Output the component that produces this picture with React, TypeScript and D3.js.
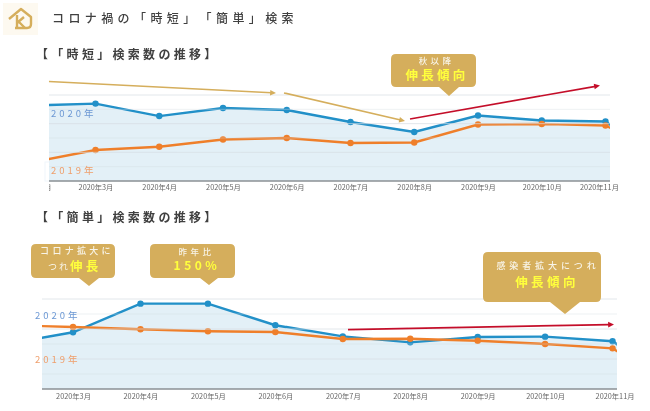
import { useEffect, useRef } from 'react'
import * as d3 from 'd3'

// index values, 2020年2月 and 12月 are only seen as clipped edges
const months = ['2020年2月', '2020年3月', '2020年4月', '2020年5月', '2020年6月', '2020年7月', '2020年8月', '2020年9月', '2020年10月', '2020年11月', '2020年12月']
const shortSeries2020 = [52.7, 54, 45.3, 50.9, 49.5, 41.2, 34.2, 45.7, 42.2, 41.5, 10.5]
const shortSeries2019 = [13, 21.6, 23.9, 29, 30, 26.5, 26.9, 39.4, 39.8, 38.7, 16.7]
const easySeries2020 = [30, 37.8, 56.9, 56.9, 42.5, 35.1, 31.1, 34.7, 34.9, 31.8, 2]
const easySeries2019 = [42.7, 41.3, 39.8, 38.5, 38, 33.3, 33.5, 32.2, 30, 27.1, 0]
const yTicks = [0, 10, 20, 30, 40, 50, 60]

const FONT = '"Noto Sans CJK JP", "Noto Sans", sans-serif'
const GOLD = '#d5ae5c'
const YELLOW = '#ffff3c'
const BLUE = '#2190c8'
const ORANGE = '#ef7f2b'
const RED = '#c4112a'
const PALE = '#f8f4e8'

type Sel = d3.Selection<SVGGElement, unknown, null, undefined>

interface ChartConfig {
  id: string
  values2020: number[]
  values2019: number[]
  xRange: [number, number]
  plot: { left: number; right: number; top: number; bottom: number }
  tickMonths: string[]
  tickPadding: number
  tickClipLeft: number
  firstTickShift: number
  lastTickShift: number
  labelX: number
  label2020Y: number
  label2019Y: number
}

function drawTrend(root: Sel, cfg: ChartConfig) {
  const { plot } = cfg
  const x = d3.scalePoint<string>().domain(months).range(cfg.xRange)
  const y = d3.scaleLinear().domain([0, 60]).range([plot.bottom, plot.top])
  const xOf = (_: number, i: number) => x(months[i]) as number

  const defs = root.append('defs')
  defs
    .append('clipPath')
    .attr('id', `plot-${cfg.id}`)
    .append('rect')
    .attr('x', plot.left)
    .attr('y', plot.top - 10)
    .attr('width', plot.right - plot.left)
    .attr('height', plot.bottom - plot.top + 12)
  // the axis group is translated, so this rect starts at its own 0
  defs
    .append('clipPath')
    .attr('id', `ticks-${cfg.id}`)
    .append('rect')
    .attr('x', cfg.tickClipLeft)
    .attr('y', 0)
    .attr('width', 650 - cfg.tickClipLeft)
    .attr('height', 20)

  const plotG = root.append('g').attr('clip-path', `url(#plot-${cfg.id})`)

  // Area under the 2020 line
  const area = d3.area<number>().x(xOf).y0(y(0)).y1((d) => y(d))
  plotG.append('path').attr('d', area(cfg.values2020)).attr('fill', '#e3f0f7')

  // Grid lines
  root
    .append('g')
    .selectAll('line')
    .data(yTicks.slice(1))
    .enter()
    .append('line')
    .attr('x1', plot.left)
    .attr('x2', plot.right)
    .attr('y1', (d) => y(d))
    .attr('y2', (d) => y(d))
    .attr('stroke', '#d5dde2')
    .attr('stroke-opacity', (d) => (d % 20 === 0 ? 0.7 : 0.4))

  // Baseline and month labels
  const axis = root
    .append('g')
    .attr('transform', `translate(0,${plot.bottom})`)
    .attr('clip-path', `url(#ticks-${cfg.id})`)
    .call(d3.axisBottom(x).tickValues(cfg.tickMonths).tickSize(0).tickPadding(cfg.tickPadding))
  axis.select('.domain').remove()
  axis
    .selectAll('text')
    .attr('font-family', FONT)
    .attr('font-size', 7.3)
    .attr('fill', '#666')
  const tickText = axis.selectAll<SVGTextElement, string>('text')
  tickText.filter((d) => d === '2020年2月').attr('dx', cfg.firstTickShift)
  tickText.filter((d) => d === '2020年11月').attr('dx', cfg.lastTickShift)
  root
    .append('line')
    .attr('x1', plot.left)
    .attr('x2', plot.right)
    .attr('y1', plot.bottom)
    .attr('y2', plot.bottom)
    .attr('stroke', '#8b9094')
    .attr('stroke-width', 1.3)

  // Series lines and markers
  const line = d3.line<number>().x(xOf).y((d) => y(d))
  const series: [number[], string][] = [
    [cfg.values2020, BLUE],
    [cfg.values2019, ORANGE],
  ]
  series.forEach(([values, color]) => {
    plotG
      .append('path')
      .attr('d', line(values))
      .attr('fill', 'none')
      .attr('stroke', color)
      .attr('stroke-width', 2.4)
    plotG
      .append('g')
      .selectAll('circle')
      .data(values)
      .enter()
      .append('circle')
      .attr('cx', xOf)
      .attr('cy', (d) => y(d))
      .attr('r', 3.2)
      .attr('fill', color)
  })

  // Year labels
  const yearLabels: [string, number, string][] = [
    ['2020年', cfg.label2020Y, '#6c98d4'],
    ['2019年', cfg.label2019Y, '#ef9f6c'],
  ]
  yearLabels.forEach(([text, ly, color]) => {
    root
      .append('text')
      .attr('x', cfg.labelX)
      .attr('y', ly)
      .attr('dominant-baseline', 'middle')
      .attr('font-family', FONT)
      .attr('font-size', 9.5)
      .attr('letter-spacing', 3)
      .attr('fill', color)
      .text(text)
  })
}

function heading(root: Sel, text: string, tx: number, ty: number, size: number, spacing: number, weight: number) {
  root
    .append('text')
    .attr('x', tx)
    .attr('y', ty)
    .attr('dominant-baseline', 'middle')
    .attr('font-family', FONT)
    .attr('font-size', size)
    .attr('font-weight', weight)
    .attr('letter-spacing', spacing)
    .attr('fill', '#3f3f3f')
    .text(text)
}

function arrow(root: Sel, x1: number, y1: number, x2: number, y2: number, color: string, w: number) {
  const angle = Math.atan2(y2 - y1, x2 - x1)
  const head = 6.5
  root
    .append('line')
    .attr('x1', x1)
    .attr('y1', y1)
    .attr('x2', x2 - Math.cos(angle) * head * 0.7)
    .attr('y2', y2 - Math.sin(angle) * head * 0.7)
    .attr('stroke', color)
    .attr('stroke-width', w)
  const pts = [
    [x2, y2],
    [x2 - Math.cos(angle - 0.45) * head, y2 - Math.sin(angle - 0.45) * head],
    [x2 - Math.cos(angle + 0.45) * head, y2 - Math.sin(angle + 0.45) * head],
  ]
  root.append('path').attr('d', `M${pts.join('L')}Z`).attr('fill', color)
}

interface CalloutLine {
  text: string
  cx: number
  y: number
  size: number
  spacing: number
  color: string
  weight?: number
}

function callout(
  root: Sel,
  box: { x0: number; x1: number; y0: number; y1: number },
  tip: { x: number; y: number; half: number },
  lines: CalloutLine[]
) {
  const r = 5
  const { x0, x1, y0, y1 } = box
  root
    .append('path')
    .attr(
      'd',
      `M${x0 + r},${y0}H${x1 - r}Q${x1},${y0} ${x1},${y0 + r}V${y1 - r}Q${x1},${y1} ${x1 - r},${y1}` +
        `H${tip.x + tip.half}L${tip.x},${tip.y}L${tip.x - tip.half},${y1}` +
        `H${x0 + r}Q${x0},${y1} ${x0},${y1 - r}V${y0 + r}Q${x0},${y0} ${x0 + r},${y0}Z`
    )
    .attr('fill', GOLD)
  lines.forEach((l) => {
    root
      .append('text')
      .attr('x', l.cx)
      .attr('y', l.y)
      .attr('text-anchor', 'middle')
      .attr('dominant-baseline', 'middle')
      .attr('font-family', FONT)
      .attr('font-size', l.size)
      .attr('font-weight', l.weight ?? 500)
      .attr('letter-spacing', l.spacing)
      .attr('fill', l.color)
      .text(l.text)
  })
}

function drawLogo(root: Sel) {
  root.append('rect').attr('x', 3).attr('y', 3).attr('width', 35).attr('height', 32).attr('fill', '#fdf9f0')
  root
    .append('path')
    .attr('d', 'M9,19L21,9L31,17V24Q31,28 27,28H15')
    .attr('fill', 'none')
    .attr('stroke', GOLD)
    .attr('stroke-width', 2.4)
    .attr('stroke-linejoin', 'round')
  root
    .append('path')
    .attr('d', 'M17,15V28M17,23L24,17M19,22L25,28')
    .attr('fill', 'none')
    .attr('stroke', GOLD)
    .attr('stroke-width', 2.4)
}

export default function App() {
  const svgRef = useRef<SVGSVGElement>(null)

  useEffect(() => {
    if (!svgRef.current) return
    const svg = d3.select(svgRef.current)
    svg.selectAll('*').remove()

    // the source is a soft, upscaled screenshot
    svg
      .append('filter')
      .attr('id', 'soft')
      .attr('filterUnits', 'userSpaceOnUse')
      .attr('x', 0)
      .attr('y', 0)
      .attr('width', 650)
      .attr('height', 411)
      .append('feGaussianBlur')
      .attr('stdDeviation', 0.35)

    const root = svg.append('g').attr('filter', 'url(#soft)') as unknown as Sel

    drawLogo(root)
    heading(root, 'コロナ禍の「時短」「簡単」検索', 52, 20, 12, 4.4, 500)
    heading(root, '【「時短」検索数の推移】', 36, 56, 12, 3.3, 700)
    heading(root, '【「簡単」検索数の推移】', 36, 219, 12, 3.3, 700)

    // faint frame left behind the lower year label
    root
      .append('rect')
      .attr('x', 45)
      .attr('y', 162)
      .attr('width', 95)
      .attr('height', 19)
      .attr('fill', 'none')
      .attr('stroke', '#f0f6fb')

    drawTrend(root, {
      id: 'short',
      values2020: shortSeries2020,
      values2019: shortSeries2019,
      xRange: [31.75, 669.25],
      plot: { left: 49, right: 610, top: 95, bottom: 181 },
      tickMonths: months.slice(0, 10),
      tickPadding: 4,
      tickClipLeft: 49,
      firstTickShift: 2,
      lastTickShift: -6.5,
      labelX: 51,
      label2020Y: 114.5,
      label2019Y: 171.5,
    })
    drawTrend(root, {
      id: 'easy',
      values2020: easySeries2020,
      values2019: easySeries2019,
      xRange: [5.6, 680],
      plot: { left: 42, right: 617, top: 299, bottom: 389 },
      tickMonths: months.slice(1, 10),
      tickPadding: 5,
      tickClipLeft: 0,
      firstTickShift: 0,
      lastTickShift: 2,
      labelX: 35,
      label2020Y: 316.5,
      label2019Y: 360.5,
    })

    arrow(root, 49, 81.5, 276, 93, GOLD, 1.7)
    arrow(root, 284, 93, 405, 121, GOLD, 1.7)
    arrow(root, 410, 119, 600, 85.5, RED, 1.7)
    arrow(root, 348, 329.7, 614, 324.5, RED, 1.8)

    callout(root, { x0: 391, x1: 476, y0: 54, y1: 87 }, { x: 449, y: 96, half: 10 }, [
      { text: '秋以降', cx: 436.5, y: 62, size: 8.5, spacing: 3.3, color: PALE },
      { text: '伸長傾向', cx: 437, y: 77, size: 12.5, spacing: 3.2, color: YELLOW, weight: 700 },
    ])
    callout(root, { x0: 31, x1: 115, y0: 244, y1: 278 }, { x: 89, y: 286, half: 10 }, [
      { text: 'コロナ拡大に', cx: 77, y: 252, size: 9, spacing: 3.3, color: PALE },
    ])
    root
      .append('text')
      .attr('x', 48)
      .attr('y', 268)
      .attr('dominant-baseline', 'middle')
      .attr('font-family', FONT)
      .attr('font-size', 9)
      .attr('letter-spacing', 2)
      .attr('fill', PALE)
      .text('つれ')
      .append('tspan')
      .attr('font-size', 12.5)
      .attr('font-weight', 700)
      .attr('letter-spacing', 3.2)
      .attr('fill', YELLOW)
      .text('伸長')
    callout(root, { x0: 150, x1: 235, y0: 244, y1: 278 }, { x: 209, y: 285, half: 9 }, [
      { text: '昨年比', cx: 196.5, y: 252.7, size: 8.5, spacing: 3.5, color: PALE },
      { text: '150%', cx: 197, y: 267, size: 12, spacing: 3.5, color: YELLOW, weight: 700 },
    ])
    callout(root, { x0: 483, x1: 601, y0: 252, y1: 302 }, { x: 565, y: 314, half: 15 }, [
      { text: '感染者拡大につれ', cx: 548, y: 267, size: 9, spacing: 3.9, color: PALE },
      { text: '伸長傾向', cx: 547, y: 284, size: 12.5, spacing: 3.4, color: YELLOW, weight: 700 },
    ])
  }, [])

  return (
    <svg
      ref={svgRef}
      width={650}
      height={411}
      style={{ position: 'absolute', left: 0, top: 0, display: 'block', background: '#fff', textSpacingTrim: 'space-all' } as React.CSSProperties}
    />
  )
}
